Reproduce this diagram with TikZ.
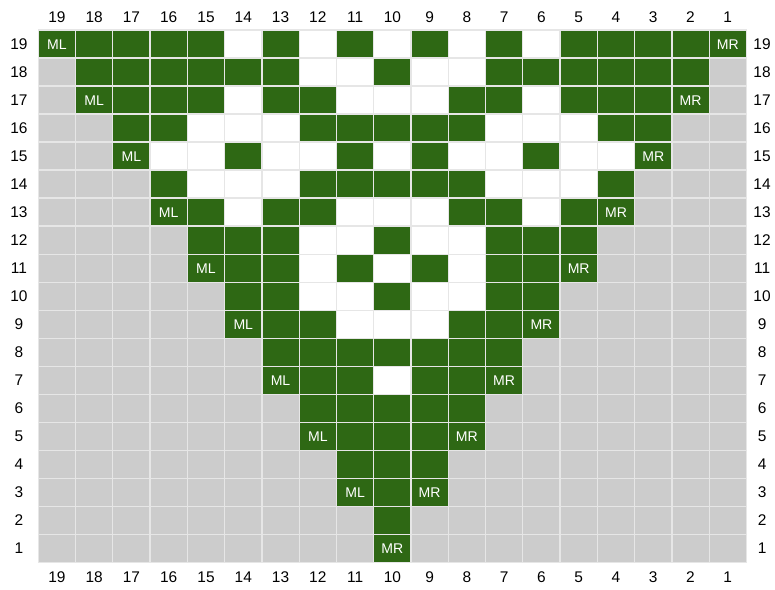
\documentclass[tikz,border=0pt]{standalone}
\usepackage{fontspec}
\setmainfont{Liberation Sans}
\definecolor{leafgreen}{RGB}{46,104,20}
\definecolor{gridline}{RGB}{230,230,230}
\colorlet{cell0}{white}
\colorlet{cell1}{leafgreen}
\colorlet{cell2}{black!20}
\tikzset{
  cell/.style={draw=gridline, line width=1.1pt},
  num/.style={font=\fontsize{13.2}{15}\selectfont, text height=9.5pt, text depth=0pt},
  tag/.style={text=white, font=\fontsize{12}{14}\selectfont, text height=8.6pt, text depth=0pt},
}

\begin{document}
\begin{tikzpicture}[x=1.1181cm, y=-0.8406cm]
    \useasboundingbox (-1.0276,-1.0707) rectangle (19.767,19.986);
    % rows of the chart, left (19) to right (1); 1 green, 0 white, 2 gray
    \foreach \r/\cells in {
      19/{1,1,1,1,1,0,1,0,1,0,1,0,1,0,1,1,1,1,1},
      18/{2,1,1,1,1,1,1,0,0,1,0,0,1,1,1,1,1,1,2},
      17/{2,1,1,1,1,0,1,1,0,0,0,1,1,0,1,1,1,1,2},
      16/{2,2,1,1,0,0,0,1,1,1,1,1,0,0,0,1,1,2,2},
      15/{2,2,1,0,0,1,0,0,1,0,1,0,0,1,0,0,1,2,2},
      14/{2,2,2,1,0,0,0,1,1,1,1,1,0,0,0,1,2,2,2},
      13/{2,2,2,1,1,0,1,1,0,0,0,1,1,0,1,1,2,2,2},
      12/{2,2,2,2,1,1,1,0,0,1,0,0,1,1,1,2,2,2,2},
      11/{2,2,2,2,1,1,1,0,1,0,1,0,1,1,1,2,2,2,2},
      10/{2,2,2,2,2,1,1,0,0,1,0,0,1,1,2,2,2,2,2},
      9/{2,2,2,2,2,1,1,1,0,0,0,1,1,1,2,2,2,2,2},
      8/{2,2,2,2,2,2,1,1,1,1,1,1,1,2,2,2,2,2,2},
      7/{2,2,2,2,2,2,1,1,1,0,1,1,1,2,2,2,2,2,2},
      6/{2,2,2,2,2,2,2,1,1,1,1,1,2,2,2,2,2,2,2},
      5/{2,2,2,2,2,2,2,1,1,1,1,1,2,2,2,2,2,2,2},
      4/{2,2,2,2,2,2,2,2,1,1,1,2,2,2,2,2,2,2,2},
      3/{2,2,2,2,2,2,2,2,1,1,1,2,2,2,2,2,2,2,2},
      2/{2,2,2,2,2,2,2,2,2,1,2,2,2,2,2,2,2,2,2},
      1/{2,2,2,2,2,2,2,2,2,1,2,2,2,2,2,2,2,2,2}}
    {
      \foreach \v [count=\i] in \cells
        \draw[cell, fill=cell\v] (\i-1,19-\r) rectangle (\i,20-\r);
    }
    % numbers round the chart
    \foreach \n [count=\i] in {19,18,...,1} {
      \node[num] (top\n) at (\i-0.5,-0.475) {\n};
      \node[num] (bot\n) at (\i-0.5,19.52) {\n};
      \node[num] (lft\n) at (-0.518,19.5-\n) {\n};
      \node[num] (rgt\n) at (19.42,19.5-\n) {\n};
    }
    % marker tags
    \foreach \c/\r/\t in {19/19/ML,18/17/ML,17/15/ML,16/13/ML,15/11/ML,14/9/ML,13/7/ML,12/5/ML,11/3/ML,
                          1/19/MR,2/17/MR,3/15/MR,4/13/MR,5/11/MR,6/9/MR,7/7/MR,8/5/MR,9/3/MR,10/1/MR}
      \node[tag] (\t-\c-\r) at (19.5-\c,19.5-\r) {\t};
\end{tikzpicture}
\end{document}
